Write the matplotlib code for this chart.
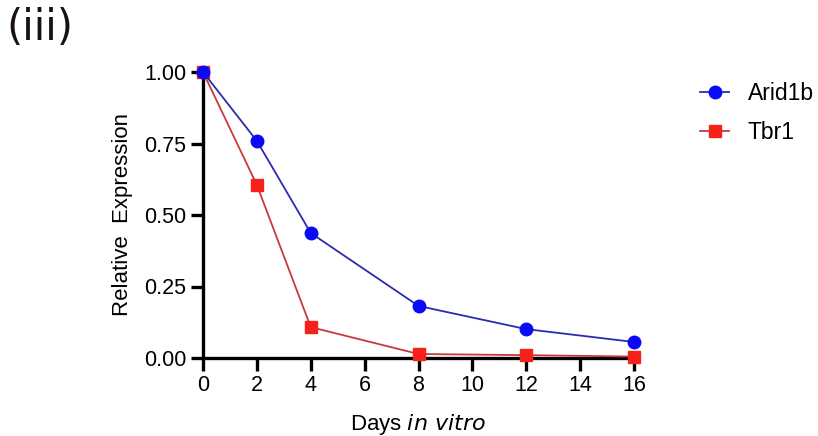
import matplotlib
matplotlib.use("Agg")
import matplotlib.pyplot as plt

days = [0, 2, 4, 8, 12, 16]
arid1b = [1.00, 0.759, 0.437, 0.182, 0.101, 0.056]
tbr1 = [1.00, 0.605, 0.108, 0.014, 0.010, 0.005]
xticks = [0, 2, 4, 6, 8, 10, 12, 14, 16]
yticks = [0.00, 0.25, 0.50, 0.75, 1.00]

plt.rcParams['font.family'] = ['Liberation Sans', 'DejaVu Sans']

fig = plt.figure(figsize=(8.18, 4.36), dpi=100)
ax = fig.add_axes([203/818, 1 - 358/436, (634 - 203)/818, (358 - 72)/436])

ax.plot(days, tbr1, color='#c83a3a', lw=1.3, marker='s', ms=8.5,
        mfc='#f5221c', mec='#f5221c', clip_on=False, zorder=3, label='Tbr1')
ax.plot(days, arid1b, color='#2b2bb0', lw=1.3, marker='o', ms=9,
        mfc='#0a0af5', mec='#0a0af5', clip_on=False, zorder=4, label='Arid1b')

ax.set_xlim(0, 16)
ax.set_ylim(0, 1)
ax.set_xticks(xticks)
ax.set_yticks(yticks)
ax.set_yticklabels([f"{v:.2f}" for v in yticks])
for s in ['top', 'right']:
    ax.spines[s].set_visible(False)
for s in ['left', 'bottom']:
    ax.spines[s].set_linewidth(2.4)
    ax.spines[s].set_color('black')
ax.tick_params(axis='both', length=9, width=2.4, labelsize=15.5, pad=3, colors='black')
ax.patch.set_alpha(0)

ax.set_ylabel('Relative  Expression', fontsize=16, labelpad=8)
ax.set_xlabel('Days $\\it{in\\ vitro}$', fontsize=16, labelpad=12)

h, l = ax.get_legend_handles_labels()
fig.legend([h[1], h[0]], [l[1], l[0]], loc='upper left',
           bbox_to_anchor=(679/818, 1 - 61/436), frameon=False,
           fontsize=16.5, handlelength=1.3, labelspacing=0.7, handletextpad=0.8)

fig.text(6/818, 1 - 7/436, '(iii)', fontsize=30, va='top', ha='left',
         color='#1a1210', family=['DejaVu Sans'])

fig.savefig('out.png', dpi=100)
